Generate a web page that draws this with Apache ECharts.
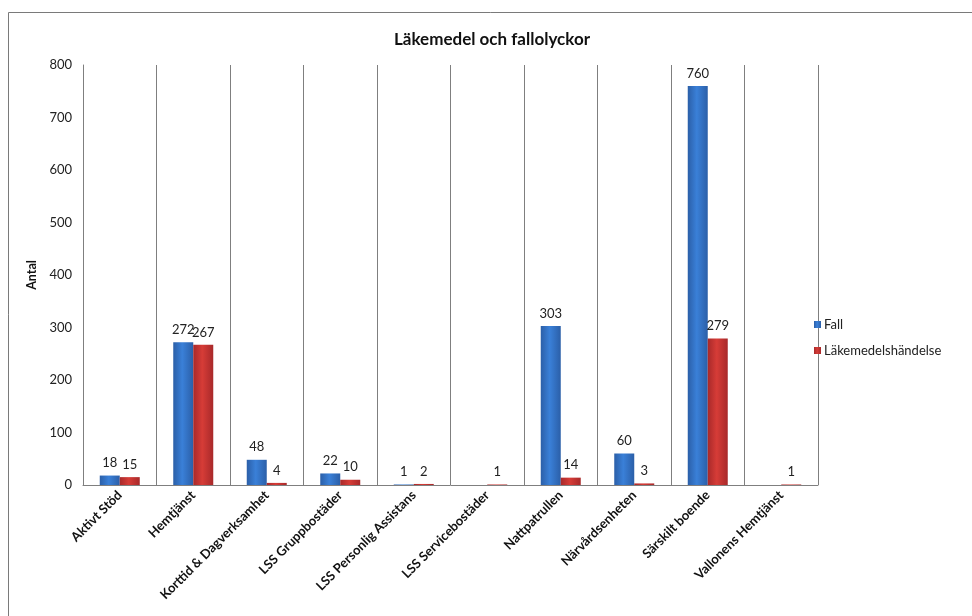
<!DOCTYPE html>
<html>
<head>
<meta charset="utf-8">
<script src="https://cdn.jsdelivr.net/npm/echarts@6/dist/echarts.min.js"></script>
<style>
  html, body { margin: 0; padding: 0; background: #fff; }
  #chart { width: 972px; height: 616px; }
</style>
</head>
<body>
<div id="chart"></div>
<script>
// Units reporting incidents
const categories = [
  'Aktivt Stöd', 'Hemtjänst', 'Korttid & Dagverksamhet', 'LSS Gruppbostäder',
  'LSS Personlig Assistans', 'LSS Servicebostäder', 'Nattpatrullen',
  'Närvårdsenheten', 'Särskilt boende', 'Vallonens Hemtjänst'
];
// Number of falls per unit (blank where none reported)
const fall = [18, 272, 48, 22, 1, null, 303, 60, 760, null];
// Number of medication incidents per unit
const lakemedel = [15, 267, 4, 10, 2, 1, 14, 3, 279, 1];
const yTicks = { min: 0, max: 800, interval: 100 };

const font = 'Lato, "Open Sans", sans-serif';

function barGradient(edge, mid) {
  return new echarts.graphic.LinearGradient(0, 0, 1, 0, [
    { offset: 0, color: edge },
    { offset: 0.45, color: mid },
    { offset: 1, color: edge }
  ]);
}

const chart = echarts.init(document.getElementById('chart'), null, { renderer: 'canvas' });
chart.setOption({
  animation: false,
  backgroundColor: '#fff',
  textStyle: { fontFamily: font },
  title: {
    text: 'Läkemedel och fallolyckor',
    left: 487, textAlign: 'center', top: 26,
    textStyle: { fontSize: 17, fontWeight: 'bold', color: '#111', fontFamily: font }
  },
  graphic: [{
    type: 'rect',
    shape: { x: 8.5, y: 12.5, width: 980, height: 620 },
    style: { fill: 'none', stroke: '#7a7a7a', lineWidth: 1 },
    silent: true
  }],
  legend: {
    orient: 'vertical',
    left: 809, top: 313,
    itemWidth: 7, itemHeight: 7, itemGap: 13,
    icon: 'rect',
    textStyle: { fontSize: 13, color: '#222', fontFamily: font, padding: [0, 0, 0, -2] },
    data: ['Fall', 'Läkemedelshändelse']
  },
  grid: { left: 83, right: 154, top: 65, bottom: 131, containLabel: false },
  xAxis: {
    type: 'category',
    data: categories,
    boundaryGap: true,
    axisLine: { lineStyle: { color: '#7f7f7f', width: 1 } },
    axisTick: { show: false },
    splitLine: { show: true, lineStyle: { color: '#7f7f7f', width: 1 } },
    axisLabel: {
      interval: 0, rotate: 45, fontSize: 13, fontWeight: 'bold', color: '#111',
      fontFamily: font, margin: 8
    }
  },
  yAxis: {
    type: 'value',
    min: yTicks.min, max: yTicks.max, interval: yTicks.interval,
    name: 'Antal',
    nameLocation: 'middle', nameRotate: 90, nameGap: 45,
    nameTextStyle: { fontSize: 12.5, fontWeight: 'bold', color: '#111', fontFamily: font },
    axisLine: { show: true, lineStyle: { color: '#7f7f7f' } },
    axisTick: { show: false },
    splitLine: { show: false },
    axisLabel: { fontSize: 13, color: '#222', fontFamily: font, margin: 11 }
  },
  series: [{
    name: 'Fall',
    type: 'bar',
    data: fall,
    barWidth: 20,
    barGap: '0%',
    itemStyle: { color: barGradient('#2b5fa8', '#3a80d8') },
    label: { show: true, position: 'top', fontSize: 13, color: '#222', fontFamily: font, distance: 6 }
  }, {
    name: 'Läkemedelshändelse',
    type: 'bar',
    data: lakemedel,
    barWidth: 20,
    barGap: '0%',
    itemStyle: { color: barGradient('#a8292a', '#d63c37') },
    label: { show: true, position: 'top', fontSize: 13, color: '#222', fontFamily: font, distance: 6 }
  }]
});
</script>
</body>
</html>
